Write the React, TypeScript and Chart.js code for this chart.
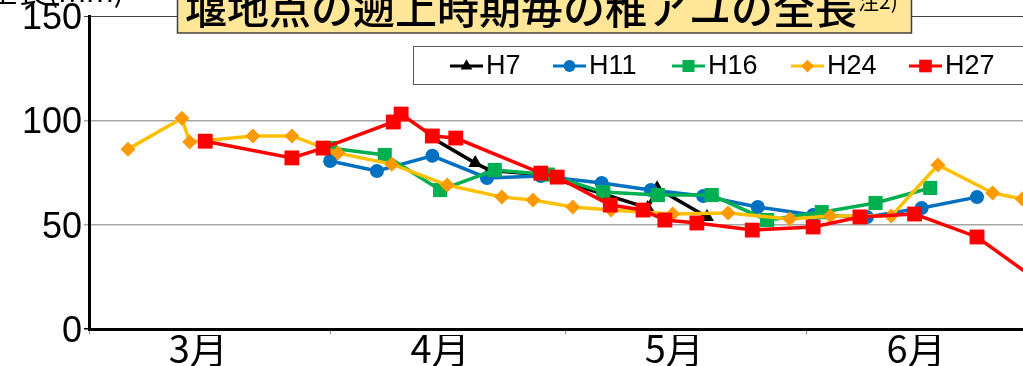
import { useEffect, useRef } from "react";
import { Chart, registerables } from "chart.js";

Chart.register(...registerables);

// x values are days counted from 1 March (0 = 3/1)
const monthTickDays = [0, 31, 61, 92, 122];
const monthLabelDays = [14, 45, 75, 106];
const monthLabels = ["3月", "4月", "5月", "6月"];
const yTickValues = [0, 50, 100, 150];

const seriesNames = ["H7", "H11", "H16", "H24", "H27"];

const h7Days = [44, 49.5, 51.4, 57.9, 71.6, 72.8, 79.2];
const h7Len = [91.5, 79.5, 76, 74, 58, 67.5, 53.7];

const h11Days = [30.9, 36.9, 44, 51, 57.9, 65.7, 72, 78.7, 85.7, 92.8, 99.7, 106.7, 113.8];
const h11Len = [80.5, 75.7, 83, 72.4, 73.3, 70, 66.6, 63.7, 58.5, 54.6, 53.7, 58, 63.2];

const h16Days = [30.9, 37.9, 45, 52, 58.8, 65.9, 72.9, 79.8, 86.9, 93.9, 100.8, 107.8];
const h16Len = [86.7, 83.4, 66.6, 76.2, 74, 65.6, 64.2, 64.2, 52.2, 56, 60.4, 67.6];

const h24Days = [5, 11.9, 12.9, 21, 26, 31.9, 38.8, 45.9, 52.9, 56.9, 62, 66.9, 74.8, 81.9, 89.8, 95, 102.8, 108.8, 115.8, 119.6];
const h24Len = [86.2, 101, 89.6, 92.5, 92.5, 84.3, 79, 69, 63.2, 61.8, 58.5, 57, 55.1, 55.6, 52.7, 54.1, 54.1, 78.6, 65.2, 62.3];

const h27Days = [14.9, 26, 30, 39, 40, 44, 47, 57.9, 60, 66.8, 71, 73.8, 77.9, 85, 92.8, 98.8, 105.8, 113.8, 122];
const h27Len = [90, 82, 86.7, 99.2, 103, 92.5, 91.5, 74.7, 72.8, 59.4, 57, 52.2, 50.8, 47.4, 48.9, 53.7, 55.1, 44.1, 22];

const titleText = "堰地点の遡上時期毎の稚アユの全長";
const titleNote = "注2)";
const yTitle = "全長(mm)";

const zip = (xs: number[], ys: number[]) => xs.map((x, i) => ({ x, y: ys[i] }));

const styles = [
  { line: "#000000", point: "#000000", shape: "triangle", r: 8 },
  { line: "#0070C0", point: "#0070C0", shape: "circle", r: 7 },
  { line: "#00B050", point: "#00B050", shape: "rect", r: 10 },
  { line: "#FFC000", point: "#FF9900", shape: "rectRot", r: 7.5 },
  { line: "#FF0000", point: "#FF0000", shape: "rect", r: 10.5 },
];

function drawMarker(ctx: CanvasRenderingContext2D, shape: string, x: number, y: number, r: number) {
  ctx.beginPath();
  if (shape === "circle") {
    ctx.arc(x, y, r, 0, Math.PI * 2);
  } else if (shape === "rect") {
    const s = r * Math.SQRT1_2;
    ctx.rect(x - s, y - s, 2 * s, 2 * s);
  } else if (shape === "rectRot") {
    ctx.moveTo(x, y - r);
    ctx.lineTo(x + r, y);
    ctx.lineTo(x, y + r);
    ctx.lineTo(x - r, y);
    ctx.closePath();
  } else if (shape === "triangle") {
    let a = 0;
    ctx.moveTo(x + Math.sin(a) * r, y - Math.cos(a) * r);
    a += (2 * Math.PI) / 3;
    ctx.lineTo(x + Math.sin(a) * r, y - Math.cos(a) * r);
    a += (2 * Math.PI) / 3;
    ctx.lineTo(x + Math.sin(a) * r, y - Math.cos(a) * r);
    ctx.closePath();
  }
  ctx.fill();
}

const overlayPlugin = {
  id: "overlay",
  afterDraw(chart: any) {
    const ctx: CanvasRenderingContext2D = chart.ctx;
    ctx.save();
    // y axis title (cut at top)
    ctx.fillStyle = "#000";
    ctx.textBaseline = "alphabetic";
    ctx.textAlign = "left";
    ctx.font = '30px "Noto Sans CJK JP"';
    ctx.fillText(yTitle, -12, 2);

    // title box
    ctx.fillStyle = "#FFE699";
    ctx.fillRect(177, -6, 735, 39);
    ctx.strokeStyle = "#404040";
    ctx.lineWidth = 1.5;
    ctx.strokeRect(177.5, -6, 734, 39);
    ctx.fillStyle = "#000";
    ctx.font = '500 42px "Noto Sans CJK JP"';
    ctx.fillText(titleText, 185, 24);
    ctx.font = '21px "Noto Sans CJK JP"';
    ctx.fillText(titleNote, 858, 9);

    // legend
    ctx.fillStyle = "#fff";
    ctx.fillRect(413, 46, 640, 38);
    ctx.strokeStyle = "#595959";
    ctx.lineWidth = 1;
    ctx.strokeRect(413.5, 46.5, 640, 38);
    const xs = [450, 553, 672, 791, 909];
    const cy = 66;
    ctx.font = '27px "Liberation Sans Narrow", "Liberation Sans"';
    ctx.textBaseline = "middle";
    seriesNames.forEach((name, i) => {
      const st = styles[i];
      const x0 = xs[i];
      ctx.strokeStyle = st.line;
      ctx.lineWidth = 3;
      ctx.beginPath();
      ctx.moveTo(x0, cy);
      ctx.lineTo(x0 + 33, cy);
      ctx.stroke();
      ctx.fillStyle = st.point;
      drawMarker(ctx, st.shape, x0 + 16.5, cy, st.r * 0.85);
      ctx.fillStyle = "#000";
      ctx.fillText(name, x0 + 36, cy + 1);
    });
    ctx.restore();
  },
};

export default function App() {
  const ref = useRef<HTMLCanvasElement | null>(null);
  useEffect(() => {
    if (!ref.current) return;
    const seriesData = [
      zip(h7Days, h7Len),
      zip(h11Days, h11Len),
      zip(h16Days, h16Len),
      zip(h24Days, h24Len),
      zip(h27Days, h27Len),
    ];
    const chart = new Chart(ref.current, {
      type: "line",
      data: {
        datasets: seriesNames.map((name, i) => ({
          label: name,
          data: seriesData[i],
          borderColor: styles[i].line,
          backgroundColor: styles[i].point,
          pointBackgroundColor: styles[i].point,
          pointBorderColor: styles[i].point,
          pointBorderWidth: 0,
          pointStyle: styles[i].shape as any,
          pointRadius: styles[i].r,
          borderWidth: 3.5,
          tension: 0,
          fill: false,
          order: 4 - i,
        })),
      },
      options: {
        responsive: false,
        animation: false,
        devicePixelRatio: 1,
        layout: { padding: { left: 0, top: 16, right: 59, bottom: 0 }, autoPadding: false },
        plugins: {
          legend: { display: false },
          title: { display: false },
          tooltip: { enabled: false },
        },
        scales: {
          x: {
            type: "linear",
            position: "bottom",
            min: 0,
            max: 122,
            afterBuildTicks: (s: any) => {
              s.ticks = monthTickDays.map((v) => ({ value: v }));
            },
            afterFit: (s: any) => {
              s.height = 6;
              s.paddingLeft = 0;
              s.paddingRight = 0;
            },
            grid: { drawOnChartArea: false, drawTicks: true, tickLength: 5, color: "#808080", lineWidth: 1 },
            border: { color: "#000", width: 3 },
            ticks: { display: false },
          },
          x2: {
            type: "linear",
            position: "bottom",
            min: 0,
            max: 122,
            afterBuildTicks: (s: any) => {
              s.ticks = monthLabelDays.map((v) => ({ value: v }));
            },
            afterFit: (s: any) => {
              s.height = 31;
              s.paddingLeft = 0;
              s.paddingRight = 0;
            },
            grid: { display: false, drawTicks: false },
            border: { display: false },
            ticks: {
              callback: (_v: any, i: number) => monthLabels[i],
              font: { family: '"Liberation Sans Narrow", "Noto Sans CJK JP"', size: 38 },
              color: "#000",
              padding: -9,
              maxRotation: 0,
              autoSkip: false,
            },
          },
          y: {
            type: "linear",
            min: 0,
            max: 150,
            afterBuildTicks: (s: any) => {
              s.ticks = yTickValues.map((v) => ({ value: v }));
            },
            afterFit: (s: any) => {
              s.width = 89;
              s.paddingTop = 0;
              s.paddingBottom = 0;
            },
            grid: {
              color: (c: any) => (c.tick && c.tick.value === 150 ? "#404040" : c.tick && c.tick.value === 0 ? "#000" : "#A6A6A6"),
              lineWidth: (c: any) => (c.tick && c.tick.value === 150 ? 1 : 1.5),
              tickLength: 5,
              drawTicks: true,
            },
            border: { color: "#000", width: 3 },
            ticks: {
              font: { family: '"Liberation Sans"', size: 36 },
              color: "#000",
              padding: 2,
              labelOffset: 3,
            },
          },
        },
      } as any,
      plugins: [overlayPlugin],
    });
    return () => chart.destroy();
  }, []);
  return (
    <div style={{ position: "fixed", left: 0, top: 0, width: 1023, height: 366, overflow: "hidden", background: "#fff" }}>
      <canvas ref={ref} width={1100} height={366} style={{ display: "block" }} />
    </div>
  );
}
